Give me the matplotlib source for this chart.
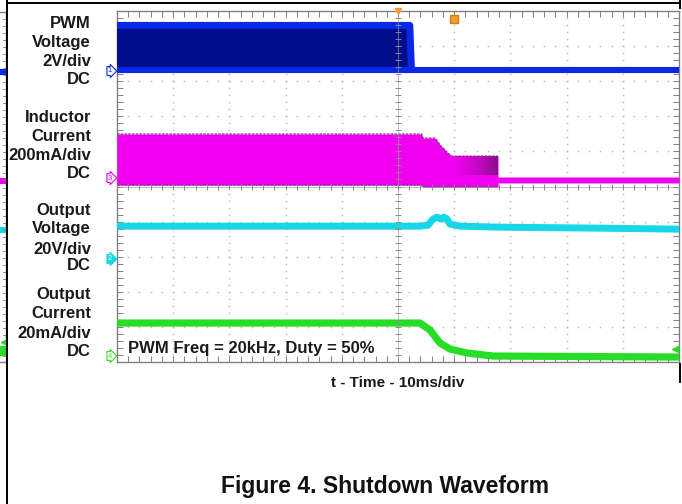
import numpy as np
import matplotlib
matplotlib.use("Agg")
import matplotlib.pyplot as plt
from matplotlib.lines import Line2D
from matplotlib.patches import Rectangle
import matplotlib.colors as mcolors

plt.rcParams['font.family'] = ['Liberation Sans', 'DejaVu Sans']

W, H = 682, 504

# ---------------- data ----------------
ms_per_div = 10.0
# channel ground positions (divisions from bottom) and scales (units / div)
ch1_offset_div, ch1_scale = 8.29, 2.0      # PWM voltage, V/div
ch3_offset_div, ch3_scale = 5.24, 200.0    # inductor current, mA/div
ch2_offset_div, ch2_scale = 2.93, 20.0     # output voltage, V/div
ch4_offset_div, ch4_scale = 0.17, 20.0     # output current, mA/div

# PWM voltage (V)
pwm_time_ms = [-50.0, 2.1, 2.4, 50.0]
pwm_high_v = [2.6, 2.6, 0.05, 0.05]
pwm_low_v = [0.05, 0.05, 0.05, 0.05]

# Inductor current envelope (mA)
il_time_ms = [-50.0, 4.2, 4.4, 6.6, 7.5, 8.9, 9.6, 17.8, 17.8, 50.0]
il_top_ma = [251, 251, 228, 228, 188, 142, 125, 125, 6, 6]
il_bot_ma = [-40, -40, -51, -51, -51, -51, -51, -51, -28, -28]

# Output voltage (V)
vout_time_ms = [-50.0, 3.91, 5.34, 6.23, 6.94, 7.65, 8.19, 8.72, 9.25, 11.03, 18.15, 35.94, 50.0]
vout_v = [18.8, 18.8, 19.37, 22.79, 23.93, 22.79, 23.93, 22.79, 19.94, 18.8, 18.23, 17.66, 17.09]

# Output current (mA)
iout_time_ms = [-50.0, 3.91, 5.69, 7.47, 9.25, 12.28, 16.9, 50.0]
iout_ma = [18.8, 18.8, 14.81, 7.41, 3.99, 1.71, 0.0, -0.57]

channel_labels = [
    ["PWM", "Voltage", "2V/div", "DC"],
    ["Inductor", "Current", "200mA/div", "DC"],
    ["Output", "Voltage", "20V/div", "DC"],
    ["Output", "Current", "20mA/div", "DC"],
]
label_line_y_px = [[24, 43, 62, 80], [118, 137, 155, 173],
                   [210, 229, 249, 266], [295, 314, 333, 352]]
annotation = "PWM Freq = 20kHz, Duty = 50%"
xlabel = "t - Time - 10ms/div"
caption = "Figure 4. Shutdown Waveform"

# ---------------- colours ----------------
BLUE = "#0A28E6"
NAVY = "#000E8C"
MAGENTA = "#F000F0"
CYAN = "#16D6E8"
GREEN = "#26DE26"
GRID = "#BDBDBD"
FRAME = "#808080"


def tx(t):
    return 5.0 + np.asarray(t, dtype=float) / ms_per_div


def px(x, y):
    return x / W, 1 - y / H


fig = plt.figure(figsize=(W / 100, H / 100), dpi=100)
fig.patch.set_facecolor("white")
ax = fig.add_axes([117 / W, 1 - 362 / H, 562 / W, 351 / H])
ax.set_xlim(0, 10)
ax.set_ylim(0, 10)
ax.set_facecolor("white")

# graticule
minor = np.arange(0, 10.001, 0.2)
for k in [1, 2, 3, 4, 6, 7, 8, 9]:
    ax.plot(minor, np.full_like(minor, k), ls="none", marker="s", ms=1.1,
            mec="none", mfc=GRID, zorder=1)
    ax.plot(np.full_like(minor, k), minor, ls="none", marker="s", ms=1.1,
            mec="none", mfc=GRID, zorder=1)
ax.axvline(5, color="#9a9a9a", lw=0.6, zorder=6, alpha=0.8)
ax.axhline(5, color="#9a9a9a", lw=0.6, zorder=6, alpha=0.8)
ax.plot(minor, np.full_like(minor, 5), ls="none", marker="|", ms=5, mew=0.7,
        color="#8a8a8a", zorder=6)
ax.plot(np.full_like(minor, 5), minor, ls="none", marker="_", ms=5, mew=0.7,
        color="#8a8a8a", zorder=6)

ax.set_xticks(np.arange(0, 11, 1))
ax.set_yticks(np.arange(0, 11, 1))
ax.set_xticks(minor, minor=True)
ax.set_yticks(minor, minor=True)
ax.tick_params(which="both", direction="in", length=4, width=0.7, color=FRAME,
               top=True, right=True, labelbottom=False, labelleft=False)
for s in ax.spines.values():
    s.set_color(FRAME)
    s.set_linewidth(1.0)

# ---- Channel 1: PWM voltage ----
t1 = tx(pwm_time_ms)
hi1 = ch1_offset_div + np.array(pwm_high_v) / ch1_scale
lo1 = ch1_offset_div + np.array(pwm_low_v) / ch1_scale
ax.fill_between(t1[:2], lo1[:2], hi1[:2], color=NAVY, lw=0, zorder=3)
ax.plot(t1[:3], hi1[:3], color=BLUE, lw=5, solid_capstyle="butt", zorder=4)
ax.plot(t1, lo1, color=BLUE, lw=4.4, solid_capstyle="butt", zorder=4)

# ---- Channel 3: inductor current ----
t3 = tx(il_time_ms)
top3 = ch3_offset_div + np.array(il_top_ma) / ch3_scale
bot3 = ch3_offset_div + np.array(il_bot_ma) / ch3_scale
ax.fill_between(t3, bot3, top3, color=MAGENTA, lw=0, zorder=3)
# darker persistence gradient in the reduced-current plateau
g0, g1 = t3[6], t3[7]
n = 24
c0 = np.array(mcolors.to_rgb(MAGENTA))
c1 = np.array(mcolors.to_rgb("#8A0F8A"))
ytop = top3[6]
ybot = ch3_offset_div + 20 / ch3_scale
for i in range(n):
    a, b = g0 + (g1 - g0) * i / n, g0 + (g1 - g0) * (i + 1) / n
    f = ((i + 0.5) / n) ** 1.4
    ax.fill_between([a, b], [ybot, ybot], [ytop, ytop],
                    color=c0 * (1 - f) + c1 * f, lw=0, zorder=3.1)
ax.plot(t3[:8], top3[:8], color="#8E2A8E", lw=0.9, ls=(0, (2, 1)), zorder=3.2)
ax.plot(t3[:8], bot3[:8], color="#8E2A8E", lw=0.9, ls=(0, (2, 1)), zorder=3.2)

# ---- Channel 2: output voltage ----
ax.plot(tx(vout_time_ms), ch2_offset_div + np.array(vout_v) / ch2_scale,
        color=CYAN, lw=5, solid_joinstyle="round", zorder=4)

# ---- Channel 4: output current ----
ax.plot(tx(iout_time_ms), ch4_offset_div + np.array(iout_ma) / ch4_scale,
        color=GREEN, lw=5.2, solid_joinstyle="round", zorder=4)

# trigger / cursor markers
ax.plot([5], [10], marker="v", ms=5, color="#F0A030", clip_on=False, zorder=7)
ax.plot([tx(10.0)], [9.77], marker="s", ms=6, color="#F0A030", mec="#D08010",
        clip_on=False, zorder=7)
ax.plot([9.93], [ch4_offset_div + 0.2], marker="<", ms=4, color=GREEN,
        clip_on=False, zorder=7)

ax.text(0.2, ch4_offset_div + 0.21, annotation, fontsize=12, fontweight="bold",
        color="#1a1a1a", va="center", ha="left", zorder=8)

# ---------------- channel markers ----------------
markers = [("1", 71, BLUE, "white", BLUE), ("3", 178, MAGENTA, "white", MAGENTA),
           ("2", 259, CYAN, CYAN, "white"), ("4", 356, GREEN, "white", GREEN)]
for lab, y, ec, fc, tc in markers:
    fig.text(*px(110, y), lab, fontsize=5.5, color=tc, ha="center", va="center",
             bbox=dict(boxstyle="rarrow,pad=0.12", fc=fc, ec=ec, lw=0.8))

# ---------------- left labels ----------------
for lines, ys in zip(channel_labels, label_line_y_px):
    for s, y in zip(lines, ys):
        fig.text(*px(91, y), s, fontsize=12, fontweight="bold", color="#1a1a1a",
                 ha="right", va="center")

fig.text(*px(398, 383), xlabel, fontsize=11, fontweight="bold", color="#1a1a1a",
         ha="center", va="center")
fig.text(*px(385, 486), caption, fontsize=16.5, fontweight="bold", color="#111111",
         ha="center", va="center")

# ---------------- neighbouring screen strip at the far left ----------------
def fline(x0, y0, x1, y1, **kw):
    fig.add_artist(Line2D([x0 / W, x1 / W], [1 - y0 / H, 1 - y1 / H],
                          transform=fig.transFigure, **kw))


fline(6, 12, 6, 362, color=FRAME, lw=1.0)
fline(0, 12, 6, 12, color=FRAME, lw=1.0)
fline(0, 362, 6, 362, color=FRAME, lw=1.0)
for yy in np.arange(12, 362, 7.02):
    fline(3, yy, 6, yy, color=FRAME, lw=0.6)
for (y0, y1, c) in [(69, 75, BLUE), (178, 184, MAGENTA), (227, 233, CYAN), (346, 356, GREEN)]:
    fig.add_artist(Rectangle((0, 1 - y1 / H), 6 / W, (y1 - y0) / H,
                             transform=fig.transFigure, color=c, lw=0))
fig.add_artist(Line2D([3 / W], [1 - 342 / H], marker="<", ms=3, color=GREEN,
                      transform=fig.transFigure))

# page border lines
fline(7, 0, 7, 504, color="black", lw=1.4)
fline(7, 2.5, 680, 2.5, color="black", lw=1.4)
fline(679.5, 0, 679.5, 8, color="black", lw=1.4)
fline(679.5, 364, 679.5, 382, color="black", lw=1.4)

fig.savefig("out.png", dpi=100, facecolor="white")
